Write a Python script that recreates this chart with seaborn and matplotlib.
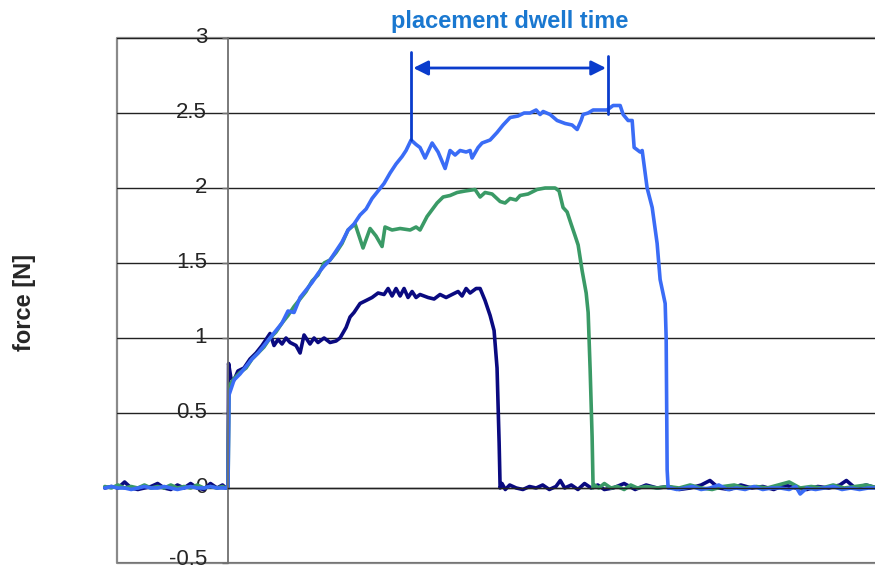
import numpy as np
import pandas as pd
import matplotlib
matplotlib.use("Agg")
import matplotlib.pyplot as plt
import matplotlib.transforms as mtransforms
import seaborn as sns

# ------------------------------------------------------------
# Datos (tiempo en s, fuerza en N)
# ------------------------------------------------------------
t_pre = [-1.12, -1.06, -1.0, -0.94, -0.88, -0.82, -0.76, -0.7, -0.64, -0.58,
         -0.52, -0.46, -0.4, -0.34, -0.28, -0.22, -0.16, -0.1, -0.05, -0.02]
navy_pre = [0.0, 0.01, 0.0, 0.04, 0.0, -0.01, 0.0, 0.01, 0.03, 0.0,
            -0.01, 0.02, 0.0, 0.03, 0.0, -0.01, 0.03, 0.0, 0.02, 0.0]
green_pre = [0.01, 0.0, 0.02, 0.0, 0.01, 0.0, 0.02, 0.0, 0.01, 0.0,
             0.02, 0.0, 0.01, 0.0, 0.02, 0.0, 0.01, 0.0, 0.01, 0.0]
blue_pre = [0.0, 0.01, 0.0, 0.0, -0.01, 0.0, 0.01, 0.0, 0.0, 0.01,
            0.0, -0.01, 0.0, 0.01, 0.0, 0.0, 0.01, 0.0, 0.0, 0.0]

navy_t = [0.0, 0.005, 0.027, 0.055, 0.09, 0.145, 0.2, 0.255, 0.309, 0.382,
          0.418, 0.455, 0.491, 0.527, 0.564, 0.618, 0.655, 0.691, 0.745, 0.782,
          0.818, 0.873, 0.927, 0.982, 1.018, 1.073, 1.109, 1.145, 1.2, 1.255,
          1.309, 1.364, 1.418, 1.455, 1.491, 1.527, 1.564, 1.6, 1.636, 1.673,
          1.709, 1.745, 1.818, 1.873, 1.927, 1.982, 2.036, 2.091, 2.127, 2.164,
          2.2, 2.255, 2.291, 2.336, 2.382, 2.418, 2.445, 2.464, 2.473]
navy_f = [0.0, 0.83, 0.73, 0.72, 0.78, 0.8, 0.86, 0.9, 0.95, 1.03,
          0.95, 0.99, 0.96, 1.0, 0.97, 0.95, 0.9, 1.02, 0.96, 1.0,
          0.97, 1.0, 0.97, 0.98, 1.0, 1.07, 1.14, 1.17, 1.23, 1.25,
          1.27, 1.3, 1.29, 1.33, 1.28, 1.33, 1.28, 1.33, 1.27, 1.31,
          1.27, 1.29, 1.27, 1.26, 1.29, 1.27, 1.29, 1.31, 1.28, 1.33,
          1.3, 1.33, 1.33, 1.25, 1.15, 1.05, 0.8, 0.3, 0.0]
navy_post_t = [2.49, 2.52, 2.56, 2.62, 2.68, 2.74, 2.8, 2.86, 2.92, 2.98,
               3.02, 3.06, 3.12, 3.18, 3.24, 3.3, 3.36, 3.42, 3.5, 3.6,
               3.7, 3.8, 3.9, 4.0, 4.1, 4.2, 4.3, 4.38, 4.46, 4.56,
               4.66, 4.76, 4.86, 4.96, 5.06, 5.16, 5.26, 5.36, 5.46, 5.56,
               5.62, 5.7, 5.8, 5.9]
navy_post_f = [0.03, -0.01, 0.02, 0.0, -0.01, 0.01, 0.0, 0.02, -0.01, 0.01,
               0.05, 0.0, 0.02, -0.01, 0.03, 0.0, 0.02, -0.01, 0.0, 0.03,
               -0.01, 0.02, 0.0, 0.01, -0.01, 0.0, 0.02, 0.05, 0.0, -0.01,
               0.02, 0.0, 0.01, -0.01, 0.02, 0.0, -0.01, 0.01, 0.0, 0.02,
               0.05, 0.0, 0.02, 0.0]

green_t = [0.0, 0.009, 0.027, 0.055, 0.109, 0.164, 0.218, 0.273, 0.327, 0.382,
           0.436, 0.491, 0.545, 0.6, 0.655, 0.709, 0.764, 0.818, 0.873, 0.927,
           0.982, 1.036, 1.091, 1.155, 1.227, 1.291, 1.345, 1.4, 1.427, 1.491,
           1.564, 1.655, 1.709, 1.745, 1.809, 1.9, 1.955, 2.018, 2.082, 2.155,
           2.245, 2.291, 2.336, 2.4, 2.473, 2.518, 2.564, 2.618, 2.655, 2.727,
           2.809, 2.882, 2.973, 3.009, 3.045, 3.082, 3.118, 3.155, 3.182, 3.218,
           3.255, 3.273, 3.291, 3.309, 3.318]
green_f = [0.0, 0.68, 0.7, 0.73, 0.77, 0.8, 0.86, 0.9, 0.94, 1.0,
           1.04, 1.1, 1.15, 1.21, 1.26, 1.31, 1.38, 1.42, 1.5, 1.52,
           1.57, 1.63, 1.72, 1.76, 1.6, 1.73, 1.68, 1.61, 1.74, 1.72,
           1.73, 1.72, 1.74, 1.72, 1.81, 1.9, 1.94, 1.95, 1.97, 1.98,
           1.99, 1.94, 1.97, 1.96, 1.91, 1.9, 1.93, 1.92, 1.95, 1.96,
           1.99, 2.0, 2.0, 1.98, 1.87, 1.84, 1.76, 1.68, 1.62, 1.45,
           1.3, 1.17, 0.79, 0.34, 0.0]
green_post_t = [3.33, 3.37, 3.42, 3.48, 3.54, 3.6, 3.66, 3.72, 3.8, 3.9,
                4.0, 4.1, 4.2, 4.3, 4.4, 4.5, 4.6, 4.7, 4.8, 4.9,
                5.0, 5.1, 5.2, 5.3, 5.4, 5.5, 5.6, 5.7, 5.8, 5.9]
green_post_f = [0.02, 0.0, 0.03, 0.0, 0.01, -0.01, 0.02, 0.0, 0.01, 0.0,
                0.01, 0.0, 0.02, 0.0, -0.01, 0.01, 0.02, 0.0, 0.01, 0.0,
                0.02, 0.04, 0.0, 0.01, 0.0, 0.02, 0.0, 0.01, 0.02, 0.0]

blue_t = [0.0, 0.009, 0.027, 0.055, 0.109, 0.164, 0.218, 0.273, 0.327, 0.382,
          0.436, 0.491, 0.545, 0.6, 0.655, 0.709, 0.764, 0.818, 0.873, 0.927,
          0.982, 1.036, 1.091, 1.145, 1.2, 1.255, 1.309, 1.364, 1.418, 1.473,
          1.527, 1.582, 1.618, 1.664, 1.709, 1.745, 1.791, 1.855, 1.909, 1.973,
          2.018, 2.064, 2.109, 2.164, 2.2, 2.218, 2.273, 2.309, 2.382, 2.445,
          2.5, 2.564, 2.636, 2.691, 2.745, 2.8, 2.836, 2.864, 2.927, 2.991,
          3.064, 3.127, 3.173, 3.209, 3.227, 3.273, 3.318, 3.382, 3.445, 3.5,
          3.564, 3.591, 3.636, 3.673, 3.691, 3.745, 3.764, 3.809, 3.855, 3.9,
          3.927, 3.973, 3.982, 3.991, 4.0]
blue_f = [0.0, 0.62, 0.66, 0.72, 0.76, 0.81, 0.86, 0.9, 0.95, 1.0,
          1.05, 1.1, 1.18, 1.17, 1.27, 1.32, 1.37, 1.43, 1.48, 1.52,
          1.58, 1.64, 1.72, 1.76, 1.82, 1.86, 1.93, 1.98, 2.03, 2.1,
          2.16, 2.21, 2.25, 2.32, 2.29, 2.27, 2.2, 2.3, 2.24, 2.13,
          2.25, 2.22, 2.25, 2.24, 2.25, 2.2, 2.27, 2.3, 2.32, 2.37,
          2.42, 2.47, 2.48, 2.5, 2.5, 2.52, 2.49, 2.51, 2.49, 2.45,
          2.43, 2.42, 2.39, 2.45, 2.49, 2.5, 2.52, 2.52, 2.52, 2.55,
          2.55, 2.49, 2.45, 2.45, 2.27, 2.24, 2.25, 2.0, 1.87, 1.63,
          1.39, 1.23, 1.0, 0.12, 0.0]
blue_post_t = [4.02, 4.08, 4.15, 4.22, 4.3, 4.38, 4.46, 4.54, 4.62, 4.7,
               4.78, 4.86, 4.94, 5.02, 5.1, 5.16, 5.2, 5.26, 5.34, 5.42,
               5.5, 5.58, 5.66, 5.74, 5.82, 5.9]
blue_post_f = [0.0, -0.01, 0.0, 0.01, -0.01, 0.0, 0.02, -0.01, 0.0, -0.01,
               0.01, -0.01, 0.0, 0.0, -0.01, 0.01, -0.04, 0.0, -0.01, 0.0,
               0.01, -0.01, 0.0, -0.01, 0.0, 0.0]

# anotación "placement dwell time"
dwell_start, dwell_end = 1.664, 3.455
dwell_start_bottom, dwell_end_bottom = 2.32, 2.49
dwell_start_top, dwell_end_top = 2.907, 2.88
dwell_arrow_y = 2.8

colores = {'navy': '#0a0a80', 'green': '#3a9a66', 'blue': '#3a6cf6'}

df = pd.concat([
    pd.DataFrame({'t': t_pre + navy_t + navy_post_t,
                  'force': navy_pre + navy_f + navy_post_f, 'serie': 'navy'}),
    pd.DataFrame({'t': t_pre + green_t + green_post_t,
                  'force': green_pre + green_f + green_post_f, 'serie': 'green'}),
    pd.DataFrame({'t': t_pre + blue_t + blue_post_t,
                  'force': blue_pre + blue_f + blue_post_f, 'serie': 'blue'}),
], ignore_index=True)

# ------------------------------------------------------------
# Gráfico
# ------------------------------------------------------------
sns.set_style('white')
plt.rcParams['font.family'] = ['Liberation Sans', 'DejaVu Sans']

fig = plt.figure(figsize=(8.75, 5.71), dpi=100)
ax = fig.add_axes([117/875, 8/571, 758/875, 525/571])

sns.lineplot(data=df, x='t', y='force', hue='serie', palette=colores,
             hue_order=['navy', 'green', 'blue'], estimator=None, sort=False,
             linewidth=2.6, legend=False, ax=ax)
for ln in ax.lines:
    ln.set_clip_on(False)

ax.set_xlim(-1.009, 5.88)
ax.set_ylim(-0.5, 3)
ax.set_xlabel('')
ax.set_ylabel('')

# rejilla horizontal
ax.set_yticks(np.arange(-0.5, 3.01, 0.5))
ax.set_yticklabels(['-0.5', '0', '0.5', '1', '1.5', '2', '2.5', '3'])
ax.yaxis.grid(True, color='#222222', linewidth=1.0)
ax.xaxis.grid(False)
ax.set_axisbelow(True)

# ejes cruzando en el origen
ax.spines['left'].set_position(('data', 0))
ax.spines['left'].set_color('#707070')
ax.spines['left'].set_linewidth(1.3)
ax.spines['bottom'].set_position(('data', 0))
ax.spines['bottom'].set_bounds(0, 5.88)
ax.spines['bottom'].set_color('#222222')
ax.spines['bottom'].set_linewidth(1.0)
ax.spines['top'].set_visible(False)
ax.spines['right'].set_visible(False)

ax.set_xticks([1, 2, 3, 4, 5])
ax.set_xticklabels([])
ax.tick_params(axis='x', direction='out', length=5, width=1, color='#444444')
ax.tick_params(axis='y', direction='out', length=4, width=1, color='#707070',
               labelsize=16, pad=11, left=True)

# etiquetas un poco por encima de su línea, como en el original
for lbl in ax.get_yticklabels():
    dy = 4 if lbl.get_text() == '-0.5' else 2
    subir = mtransforms.ScaledTranslation(0, dy/72, fig.dpi_scale_trans)
    lbl.set_transform(lbl.get_transform() + subir)

# marco exterior gris
ax.plot([1, 0, 0, 1], [1, 1, 0, 0], transform=ax.transAxes, color='#8a8a8a',
        linewidth=1.6, clip_on=False, zorder=0.5)

# anotación del tiempo de permanencia
c_ann = '#0a3ccc'
ax.plot([dwell_start, dwell_start], [dwell_start_bottom, dwell_start_top],
        color=c_ann, linewidth=2, clip_on=False)
ax.plot([dwell_end, dwell_end], [dwell_end_bottom, dwell_end_top],
        color=c_ann, linewidth=2, clip_on=False)
ax.annotate('', xy=(dwell_start + 0.02, dwell_arrow_y),
            xytext=(dwell_end - 0.02, dwell_arrow_y),
            arrowprops=dict(arrowstyle='<|-|>', color=c_ann, lw=2,
                            mutation_scale=22, shrinkA=0, shrinkB=0))
ax.text((dwell_start + dwell_end) / 2, 3.11, 'placement dwell time',
        ha='center', va='center', fontsize=17, fontweight='bold',
        color='#1a78d0', clip_on=False)

fig.text(25/875, 1 - 302/571, 'force [N]', rotation=90, ha='center',
         va='center', fontsize=17, fontweight='bold')

plt.savefig('out.png', dpi=100)
plt.close()
